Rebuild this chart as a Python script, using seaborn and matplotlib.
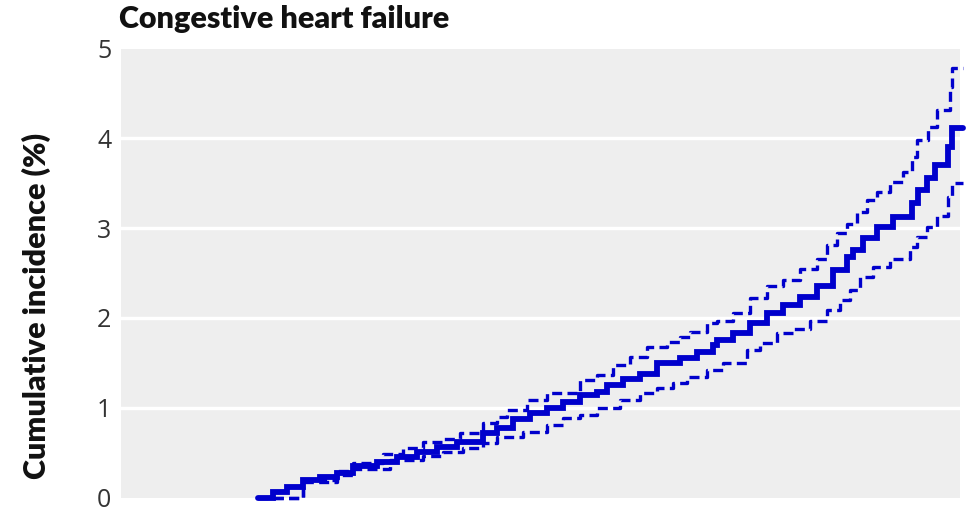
import matplotlib
matplotlib.use("Agg")
import matplotlib.pyplot as plt
import seaborn as sns
import pandas as pd

# ---- data (x in arbitrary time units 0-30, y = cumulative incidence %) ----
main_x = [4.90, 5.43, 5.93, 6.51, 7.11, 7.72, 8.29, 9.15, 9.87, 10.58, 11.30, 12.01, 12.94,
          13.44, 14.02, 14.62, 15.23, 15.80, 16.41, 17.02, 17.38, 17.95, 18.56, 19.16, 19.99,
          20.59, 21.17, 21.31, 21.88, 22.49, 23.10, 23.67, 24.28, 24.88, 25.46, 25.96, 26.17,
          26.53, 27.03, 27.60, 28.28, 28.49, 28.82, 29.10, 29.57, 29.71, 30.10]
main_y = [0.00, 0.06, 0.12, 0.19, 0.23, 0.27, 0.35, 0.40, 0.45, 0.51, 0.56, 0.62, 0.72,
          0.77, 0.87, 0.94, 1.00, 1.06, 1.14, 1.17, 1.25, 1.32, 1.38, 1.50, 1.55,
          1.62, 1.70, 1.75, 1.83, 1.94, 2.05, 2.14, 2.23, 2.35, 2.53, 2.68, 2.76,
          2.89, 3.01, 3.12, 3.28, 3.42, 3.56, 3.70, 3.90, 4.11, 4.11]

upper_x = [4.90, 6.51, 7.72, 8.29, 9.37, 10.08, 10.80, 11.51, 12.12, 12.94, 13.44, 13.80,
           14.52, 15.23, 16.41, 17.02, 17.59, 18.20, 18.81, 19.52, 19.99, 20.34, 20.95,
           21.31, 21.88, 22.49, 23.10, 23.67, 24.28, 24.88, 25.24, 25.60, 25.96, 26.31,
           26.67, 27.03, 27.49, 27.96, 28.28, 28.46, 28.85, 29.17, 29.64, 29.71, 30.10]
upper_y = [0.00, 0.20, 0.29, 0.38, 0.48, 0.55, 0.62, 0.65, 0.72, 0.83, 0.90, 0.97,
           1.09, 1.16, 1.31, 1.36, 1.48, 1.57, 1.68, 1.73, 1.79, 1.84, 1.94,
           1.96, 2.05, 2.22, 2.35, 2.42, 2.55, 2.66, 2.81, 2.94, 3.05, 3.18,
           3.31, 3.40, 3.51, 3.62, 3.79, 3.98, 4.13, 4.31, 4.57, 4.78, 4.78]

lower_x = [4.90, 6.51, 7.72, 8.29, 9.62, 10.80, 11.51, 12.23, 12.94, 13.44, 14.37, 15.23,
           15.80, 16.41, 17.02, 17.84, 18.56, 19.16, 19.74, 20.24, 20.95, 21.52, 22.38,
           22.85, 23.45, 24.03, 24.63, 25.24, 25.71, 26.06, 26.42, 26.89, 27.49, 28.21,
           28.46, 28.82, 29.17, 29.57, 29.71, 30.10]
lower_y = [0.00, 0.17, 0.25, 0.32, 0.42, 0.46, 0.51, 0.55, 0.61, 0.67, 0.73, 0.81,
           0.88, 0.92, 1.00, 1.09, 1.16, 1.22, 1.27, 1.34, 1.42, 1.50, 1.64,
           1.72, 1.83, 1.88, 1.96, 2.09, 2.20, 2.31, 2.46, 2.57, 2.66, 2.79,
           2.90, 3.01, 3.14, 3.35, 3.50, 3.50]

y_ticks = [0, 1, 2, 3, 4, 5]
x_ticks = [10, 20]

title_text = "Congestive heart failure"
ylabel_text = "Cumulative incidence (%)"

# ---- plot ----
sns.set_theme(style="white")
plt.rcParams['font.family'] = ['Lato', 'DejaVu Sans']

fig = plt.figure(figsize=(9.78, 5.12), dpi=100)
ax = fig.add_axes([121/978, 14.5/512, (960-121)/978, (497.5-48.5)/512])
ax.set_facecolor("#eeeeee")

blue = "#0000cc"
sns.lineplot(x=lower_x, y=lower_y, ax=ax, color=blue, lw=2.4, drawstyle="steps-post",
             linestyle=(0, (3.0, 1.6)), estimator=None, sort=False, clip_on=False)
sns.lineplot(x=upper_x, y=upper_y, ax=ax, color=blue, lw=2.4, drawstyle="steps-post",
             linestyle=(0, (3.0, 1.6)), estimator=None, sort=False, clip_on=False)
sns.lineplot(x=main_x, y=main_y, ax=ax, color=blue, lw=4.2, drawstyle="steps-post",
             estimator=None, sort=False, clip_on=False, solid_joinstyle="miter")

ax.set_xlim(0, 30)
ax.set_ylim(0, 5)
ax.set_yticks(y_ticks)
ax.set_yticklabels([str(t) for t in y_ticks], fontsize=18, color="#333333",
                   family=['Open Sans', 'DejaVu Sans'])
ax.set_xticks(x_ticks)
ax.set_xticklabels([])
ax.tick_params(axis="y", length=0, pad=7)
ax.tick_params(axis="x", direction="in", length=7, width=2.5, color="white")

for v in [1, 2, 3, 4]:
    ax.axhline(v, color="white", lw=2.5, zorder=0.5)

for s in ax.spines.values():
    s.set_visible(False)

ax.set_xlabel("")
ax.set_ylabel("")
fig.text(36/978, 1 - 306/512, ylabel_text, rotation=90, ha="center", va="center",
         fontsize=22, fontweight="heavy", color="#111111")
fig.text(119/978, 1 - 19/512, title_text, ha="left", va="center",
         fontsize=22, fontweight="heavy", color="#111111")

fig.savefig("out.png", dpi=100)
